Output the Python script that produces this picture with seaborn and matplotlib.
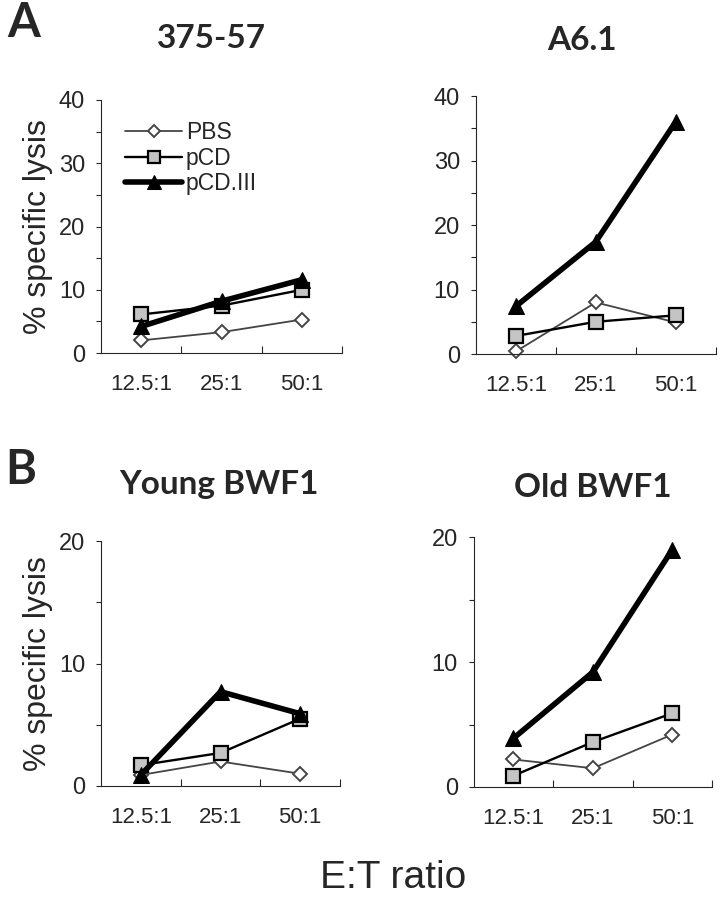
import matplotlib
matplotlib.use("Agg")
import matplotlib.pyplot as plt
import seaborn as sns
import pandas as pd
import numpy as np

# E:T ratios on the x axis
ratios = ["12.5:1", "25:1", "50:1"]

# % specific lysis
a_37557_pbs = [2.0, 3.3, 5.3]
a_37557_pcd = [6.1, 7.5, 10.0]
a_37557_pcd3 = [4.2, 8.2, 11.6]

a_a61_pbs = [0.4, 8.0, 4.9]
a_a61_pcd = [2.8, 5.0, 6.0]
a_a61_pcd3 = [7.4, 17.4, 36.0]

b_young_pbs = [0.9, 2.0, 1.0]
b_young_pcd = [1.7, 2.7, 5.5]
b_young_pcd3 = [0.9, 7.7, 5.9]

b_old_pbs = [2.2, 1.5, 4.2]
b_old_pcd = [0.9, 3.6, 5.9]
b_old_pcd3 = [3.9, 9.2, 19.0]

series_names = ["PBS", "pCD", "pCD.III"]

sns.set_style("ticks")
plt.rcParams['font.family'] = ['Liberation Sans', 'DejaVu Sans']
title_font = ["Lato", "DejaVu Sans"]

# one style per treatment
styles = {
    "PBS": dict(marker="D", markersize=7, markerfacecolor="white", markeredgecolor="#444444",
                markeredgewidth=1.4, color="#444444", linewidth=1.3),
    "pCD": dict(marker="s", markersize=9.5, markerfacecolor="#c4c4c4", markeredgecolor="black",
                markeredgewidth=1.6, color="black", linewidth=1.7),
    "pCD.III": dict(marker="^", markersize=12, markerfacecolor="black", markeredgecolor="black",
                    color="black", linewidth=4.0),
}

W, H = 720, 899
fig = plt.figure(figsize=(W / 100, H / 100), dpi=100)

panels = [
    ("375-57", (211, 48), [0.1403, 0.6073, 0.335, 0.2815], 40, [a_37557_pbs, a_37557_pcd, a_37557_pcd3], True),
    ("A6.1", (582, 50), [0.661, 0.6062, 0.333, 0.287], 40, [a_a61_pbs, a_a61_pcd, a_a61_pcd3], False),
    ("Young BWF1", (219, 494), [0.1403, 0.1257, 0.332, 0.2725], 20, [b_young_pbs, b_young_pcd, b_young_pcd3], True),
    ("Old BWF1", (593, 497), [0.658, 0.1246, 0.331, 0.278], 20, [b_old_pbs, b_old_pcd, b_old_pcd3], False),
]

for i, (title, tpos, rect, ymax, vals, show_ylabel) in enumerate(panels):
    ax = fig.add_axes(rect)
    for name, v in zip(series_names, vals):
        df = pd.DataFrame({"ratio": ratios, "lysis": v})
        sns.lineplot(data=df, x="ratio", y="lysis", ax=ax, sort=False, label=name,
                     clip_on=False, **styles[name])
    ax.set_xlim(-0.5, 2.5)
    ax.set_ylim(0, ymax)
    ax.set_yticks(np.arange(0, ymax + 1, 10))
    ax.set_yticks(np.arange(0, ymax + 1, 5), minor=True)
    ax.tick_params(axis="y", which="both", direction="out", length=3.5, width=0.8,
                   labelsize=17, pad=8)
    ax.set_xticks([0, 1, 2])
    ax.set_xticklabels(ratios)
    ax.set_xticks([0.5, 1.5, 2.5], minor=True)
    ax.tick_params(axis="x", which="major", length=0, labelsize=16, pad=15)
    ax.tick_params(axis="x", which="minor", direction="in", length=5, width=0.8)
    for s in ["top", "right"]:
        ax.spines[s].set_visible(False)
    for s in ["left", "bottom"]:
        ax.spines[s].set_linewidth(0.8)
    ax.set_xlabel("")
    if show_ylabel:
        ax.set_ylabel("% specific lysis", fontsize=23, labelpad=4)
    else:
        ax.set_ylabel("")
    fig.text(tpos[0] / W, 1 - tpos[1] / H, title, fontsize=24, fontweight="bold",
             family=title_font, ha="center", va="baseline")
    if i == 0:
        ax.legend(loc="upper left", bbox_to_anchor=(0.1, 0.915), frameon=False, fontsize=16.5,
                  handlelength=2.5, handletextpad=0.15, labelspacing=0.1, markerscale=0.85,
                  borderaxespad=0, borderpad=0)
    else:
        ax.get_legend().remove()

fig.text(7 / W, 1 - 37 / H, "A", fontsize=34, fontweight="bold", family=title_font, va="baseline")
fig.text(5 / W, 1 - 484 / H, "B", fontsize=34, fontweight="bold", family=title_font, va="baseline")
fig.text(393 / W, 1 - 888 / H, "E:T ratio", fontsize=28, ha="center", va="baseline")

fig.savefig("out.png", dpi=100)
